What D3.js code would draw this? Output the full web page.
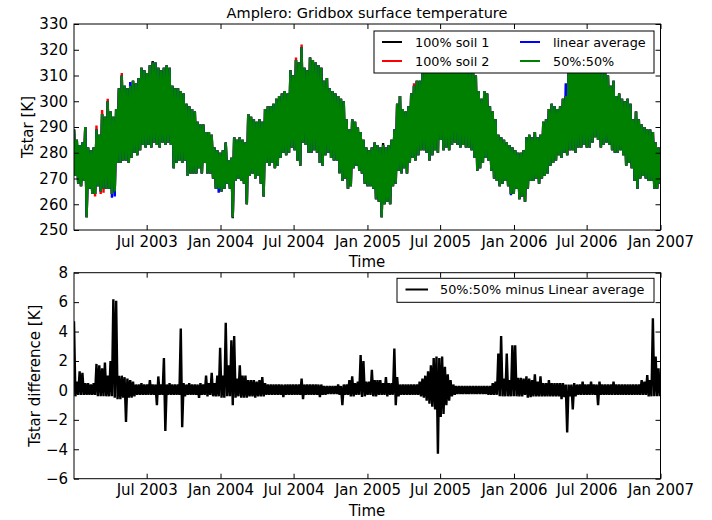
<!DOCTYPE html>
<meta charset="utf-8">
<style>
body { margin: 0; background: #fff; }
text { font-family: "DejaVu Sans", sans-serif; }
.tick line { stroke: #000; }
</style>
<body>
<script src="https://d3js.org/d3.v7.min.js"></script>
<script>

// ---- data (weekly envelopes) ----
var startDate = Date.UTC(2003, 0, 1);
var DAY = 864e5;

// 50%:50% Tstar weekly maximum / minimum [K]
var tHi = [289,285,283,284,290,282,281,282,289,287,295,294,300,296,294,297,305,310,306,305,
           306,308,307,309,313,312,311,314,315,315,313,312,313,314,313,306,305,305,304,303,
           299,298,297,296,292,291,291,288,288,287,282,281,280,281,284,277,278,286,285,286,
           285,284,295,294,293,292,293,292,297,298,298,299,301,302,303,304,303,312,310,316,
           315,321,313,312,317,316,315,314,313,308,309,305,304,303,302,301,300,293,289,293,
           292,290,288,285,282,281,282,284,283,282,283,282,283,285,289,299,302,297,296,298,
           303,306,308,308,311,313,316,317,316,318,317,318,317,316,317,318,316,317,316,315,
           314,313,312,310,304,301,304,303,298,296,293,287,286,285,284,283,282,281,280,280,
           281,286,287,286,288,286,287,292,293,297,299,298,297,298,301,302,314,315,316,315,
           317,316,317,316,315,316,315,314,312,311,310,306,308,302,303,301,300,301,299,293,
           296,293,291,290,289,289,288,284,282];
var tLo = [271,268,267,269,255,266,264,264,267,265,266,266,266,264,265,276,276,277,277,276,
           278,280,279,281,283,282,283,282,284,283,282,284,283,284,283,274,276,277,276,277,
           271,272,272,272,274,272,276,272,272,270,266,266,265,266,268,266,255,269,270,269,
           268,260,271,272,270,271,268,263,276,275,276,274,275,278,280,279,280,282,281,277,
           275,284,283,280,280,281,280,276,275,279,280,278,277,277,272,269,270,266,267,274,
           275,273,272,268,267,267,266,262,261,255,260,261,260,267,268,273,272,274,272,276,
           278,277,279,281,281,280,277,279,281,280,285,281,282,281,283,284,283,282,283,282,
           282,281,278,273,274,276,278,277,273,270,269,267,268,269,267,264,264,266,262,263,
           261,266,269,269,270,268,270,271,272,275,276,277,279,278,280,279,281,281,280,282,
           282,283,282,282,284,286,285,282,283,284,283,281,280,280,281,279,275,276,274,269,
           266,270,271,270,269,269,266,266,268];

// places where the other series poke out from under the green one: [week, value]
var soil1Hi = [[28, 315.6], [110, 283.8]];
var soil1Lo = [[56, 254.6]];
var soil2Hi = [[8, 290.6], [10, 296.6], [12, 301], [17, 311], [79, 317], [81, 322], [121, 307], [124, 312]];
var soil2Lo = [[7, 263], [9, 264], [10, 264.5]];
var linHi = [[20, 307.5], [175, 307]];
var linLo = [[13, 262.5], [14, 263], [51, 264.5], [155, 263.5]];

// 50%:50% minus linear average, weekly maximum / minimum [K]
var dHi = [4.7,0.6,1.3,1.2,0.5,0.5,0.4,0.5,1.8,1.7,1.5,1.9,1.0,2.0,6.2,6.1,1.0,1.0,0.9,0.8,
           0.7,0.6,0.4,0.4,0.5,0.4,0.4,0.7,0.4,0.4,0.95,0.4,2.2,0.4,0.5,0.4,0.4,0.4,4.2,0.5,
           0.4,0.5,0.4,0.4,0.4,0.5,0.4,1.0,0.5,1.2,0.5,1.0,2.9,1.0,4.6,1.7,3.4,3.7,0.8,1.7,
           1.0,1.0,0.7,0.7,0.7,0.6,0.7,0.9,0.5,0.4,0.4,0.4,0.4,0.4,0.4,0.4,0.4,0.4,0.4,0.4,
           0.4,0.8,0.4,0.4,0.4,0.4,0.4,0.4,0.4,0.3,0.3,0.3,0.3,0.3,0.4,0.3,0.4,0.4,0.7,0.95,
           0.5,0.6,2.4,2.0,0.6,0.6,1.4,0.7,0.7,0.7,0.5,0.9,0.5,0.5,2.85,0.9,0.4,0.4,0.4,0.4,
           0.4,0.4,0.4,0.6,0.8,1.0,1.3,1.7,2.2,2.3,2.2,2.3,1.6,1.1,0.7,0.4,0.3,0.3,0.3,0.3,
           0.3,0.3,0.3,0.3,0.3,0.3,0.3,0.3,0.3,0.5,0.6,2.5,3.7,0.8,2.5,0.7,3.06,3.06,0.85,0.85,
           0.8,0.95,0.8,0.7,1.1,0.6,0.95,0.5,0.5,0.7,0.5,0.5,0.5,0.5,0.5,0.4,0.4,0.4,0.5,0.4,
           0.4,0.6,0.4,0.4,0.6,0.4,0.4,0.6,0.4,0.4,0.4,0.4,0.6,0.4,0.4,0.4,0.4,0.4,0.4,0.4,
           0.4,0.4,0.7,0.6,1.05,0.7,4.9,2.3,1.5];
var dLo = [-0.4,-0.3,-0.3,-0.3,-0.3,-0.3,-0.3,-0.3,-0.4,-0.4,-0.4,-0.4,-0.4,-0.4,-0.5,-0.6,-0.6,-0.5,-2.15,-0.5,
           -0.5,-0.4,-0.3,-0.3,-0.3,-0.3,-0.3,-0.3,-0.3,-1.0,-0.3,-0.3,-2.75,-0.3,-0.3,-0.3,-0.3,-0.3,-2.5,-0.4,
           -0.3,-0.3,-0.3,-0.3,-0.5,-0.3,-0.3,-0.4,-0.3,-0.4,-0.4,-0.4,-0.5,-0.5,-0.4,-0.4,-1.0,-0.5,-0.4,-0.5,
           -0.5,-0.5,-0.4,-0.4,-0.5,-0.4,-0.4,-0.4,-0.3,-0.3,-0.3,-0.3,-0.3,-0.3,-0.45,-0.3,-0.3,-0.3,-0.3,-0.3,
           -0.3,-0.6,-0.3,-0.3,-0.3,-0.3,-0.3,-0.45,-0.3,-0.3,-0.25,-0.25,-0.25,-0.25,-0.3,-1.0,-0.3,-0.3,-0.4,-0.4,
           -0.3,-0.3,-0.45,-0.4,-0.3,-0.3,-0.4,-0.4,-0.3,-0.3,-0.3,-0.4,-0.3,-0.3,-1.0,-0.4,-0.3,-0.3,-0.3,-0.3,
           -0.3,-0.3,-0.3,-0.4,-0.5,-0.7,-0.9,-1.1,-1.3,-4.3,-1.8,-1.6,-1.0,-0.7,-0.4,-0.3,-0.25,-0.25,-0.25,-0.25,
           -0.25,-0.25,-0.25,-0.25,-0.25,-0.25,-0.25,-0.3,-0.3,-0.3,-0.3,-0.4,-0.4,-0.4,-0.4,-0.4,-0.4,-0.4,-0.4,-0.4,
           -0.3,-0.5,-0.45,-0.4,-0.4,-0.4,-0.4,-0.4,-0.4,-0.4,-0.4,-0.4,-0.4,-0.6,-0.45,-2.85,-0.4,-1.3,-0.4,-0.3,
           -0.3,-0.3,-0.3,-0.3,-0.3,-0.3,-1.0,-0.3,-0.3,-0.3,-0.3,-0.3,-0.3,-0.3,-0.3,-0.3,-0.3,-0.3,-0.3,-0.3,
           -0.3,-0.3,-0.3,-0.3,-0.4,-0.4,-0.4,-0.4,-0.4];

var xTickLabels = ["Jul 2003","Jan 2004","Jul 2004","Jan 2005","Jul 2005","Jan 2006","Jul 2006","Jan 2007"];
var yTicksTop = [250,260,270,280,290,300,310,320,330];
var yTicksBot = [-6,-4,-2,0,2,4,6,8];

// ---- layout ----
var W = 712, H = 520;
var left = 74, right = 660.5;
var top1 = 24, bot1 = 230;
var top2 = 272.7, bot2 = 478.7;

var svg = d3.select("body").append("svg")
    .attr("width", W).attr("height", H);

var x = d3.scaleUtc()
    .domain([new Date(startDate), new Date(Date.UTC(2007, 0, 1))])
    .range([left, right]);
var y1 = d3.scaleLinear().domain([250, 330]).range([bot1, top1]);
var y2 = d3.scaleLinear().domain([-6, 8]).range([bot2, top2]);

var parseTick = d3.utcParse("%b %Y");
var xTicks = xTickLabels.map(parseTick);

function week(i) { return new Date(startDate + i * 7 * DAY); }

// one max and one min per week, drawn as a zig-zag like the dense hourly line
function zigzag(hi, lo, hiOver, loOver) {
  var h = hi.slice(), l = lo.slice();
  (hiOver || []).forEach(function(p) { h[p[0]] = p[1]; });
  (loOver || []).forEach(function(p) { l[p[0]] = p[1]; });
  var pts = [];
  h.forEach(function(v, i) {
    pts.push([week(i), v]);
    pts.push([new Date(+week(i) + 3.5 * DAY), l[i]]);
  });
  return pts;
}

svg.append("clipPath").attr("id", "c1").append("rect")
    .attr("x", left).attr("y", top1).attr("width", right - left).attr("height", bot1 - top1);
svg.append("clipPath").attr("id", "c2").append("rect")
    .attr("x", left).attr("y", top2).attr("width", right - left).attr("height", bot2 - top2);

// ---- top panel ----
var line1 = d3.line().x(function(d) { return x(d[0]); }).y(function(d) { return y1(d[1]); });

var series = [
  {name: "100% soil 1", color: "#000000", data: zigzag(tHi, tLo, soil1Hi, soil1Lo)},
  {name: "100% soil 2", color: "#ff0000", data: zigzag(tHi, tLo, soil2Hi, soil2Lo)},
  {name: "linear average", color: "#0000ff", data: zigzag(tHi, tLo, linHi, linLo)},
  {name: "50%:50%", color: "#008000", data: zigzag(tHi, tLo)}
];

var g1 = svg.append("g").attr("clip-path", "url(#c1)");
series.forEach(function(s) {
  g1.append("path")
    .attr("d", line1(s.data))
    .attr("fill", "none")
    .attr("stroke", s.color)
    .attr("stroke-width", 2.4)
    .attr("stroke-linejoin", "bevel");
});

function axes(yScale, yTicks, yTop, yBot, fmt) {
  svg.append("g")
      .attr("transform", "translate(0," + yBot + ")")
      .call(d3.axisBottom(x).tickValues(xTicks).tickFormat(d3.utcFormat("%b %Y"))
              .tickSizeInner(-5).tickSizeOuter(0).tickPadding(6))
      .call(function(g) { g.select(".domain").remove(); })
      .selectAll("text").style("font-size", "15px").attr("fill", "#000");
  svg.append("g")
      .attr("transform", "translate(0," + yTop + ")")
      .call(d3.axisTop(x).tickValues(xTicks).tickFormat("").tickSizeInner(-5).tickSizeOuter(0))
      .call(function(g) { g.select(".domain").remove(); });
  svg.append("g")
      .attr("transform", "translate(" + left + ",0)")
      .call(d3.axisLeft(yScale).tickValues(yTicks).tickFormat(fmt)
              .tickSizeInner(-5).tickSizeOuter(0).tickPadding(6))
      .call(function(g) { g.select(".domain").remove(); })
      .selectAll("text").style("font-size", "15px").attr("fill", "#000");
  svg.append("g")
      .attr("transform", "translate(" + right + ",0)")
      .call(d3.axisRight(yScale).tickValues(yTicks).tickFormat("").tickSizeInner(-5).tickSizeOuter(0))
      .call(function(g) { g.select(".domain").remove(); });
  svg.append("rect")
      .attr("x", left).attr("y", yTop).attr("width", right - left).attr("height", yBot - yTop)
      .attr("fill", "none").attr("stroke", "#000").attr("stroke-width", 1);
}

axes(y1, yTicksTop, top1, bot1, d3.format("d"));

svg.append("text").attr("x", 367).attr("y", 18).attr("text-anchor", "middle")
    .style("font-size", "14.5px").text("Amplero: Gridbox surface temperature");
svg.append("text").attr("x", 367).attr("y", 267).attr("text-anchor", "middle")
    .style("font-size", "15px").text("Time");
svg.append("text").attr("transform", "translate(33," + (top1 + bot1) / 2 + ") rotate(-90)")
    .attr("text-anchor", "middle").style("font-size", "15px").text("Tstar [K]");

// legend (top)
var lg = svg.append("g");
lg.append("rect").attr("x", 374).attr("y", 31).attr("width", 280).attr("height", 42)
    .attr("fill", "#fff").attr("stroke", "#000").attr("stroke-width", 1);
var legPos = [[382, 42], [382, 61], [520, 42], [520, 61]];
series.forEach(function(s, i) {
  var p = legPos[i];
  lg.append("line").attr("x1", p[0]).attr("x2", p[0] + 20).attr("y1", p[1]).attr("y2", p[1])
      .attr("stroke", s.color).attr("stroke-width", 2);
  lg.append("text").attr("x", p[0] + 33).attr("y", p[1] + 4.5)
      .style("font-size", "12.8px").text(s.name);
});

// ---- bottom panel ----
var line2 = d3.line().x(function(d) { return x(d[0]); }).y(function(d) { return y2(d[1]); });
svg.append("g").attr("clip-path", "url(#c2)")
  .append("path")
    .attr("d", line2(zigzag(dHi, dLo)))
    .attr("fill", "none").attr("stroke", "#000").attr("stroke-width", 2.4)
    .attr("stroke-linejoin", "bevel");

axes(y2, yTicksBot, top2, bot2, function(d) { return d < 0 ? "\u2212" + (-d) : "" + d; });

svg.append("text").attr("x", 367).attr("y", 516).attr("text-anchor", "middle")
    .style("font-size", "15px").text("Time");
svg.append("text").attr("transform", "translate(40," + (top2 + bot2) / 2 + ") rotate(-90)")
    .attr("text-anchor", "middle").style("font-size", "15px").text("Tstar difference [K]");

var lg2 = svg.append("g");
lg2.append("rect").attr("x", 397).attr("y", 278.3).attr("width", 257).attr("height", 24)
    .attr("fill", "#fff").attr("stroke", "#000").attr("stroke-width", 1);
lg2.append("line").attr("x1", 405.5).attr("x2", 428).attr("y1", 289.5).attr("y2", 289.5)
    .attr("stroke", "#000").attr("stroke-width", 2);
lg2.append("text").attr("x", 440).attr("y", 294).style("font-size", "12.8px")
    .text("50%:50% minus Linear average");

</script>
</body>
